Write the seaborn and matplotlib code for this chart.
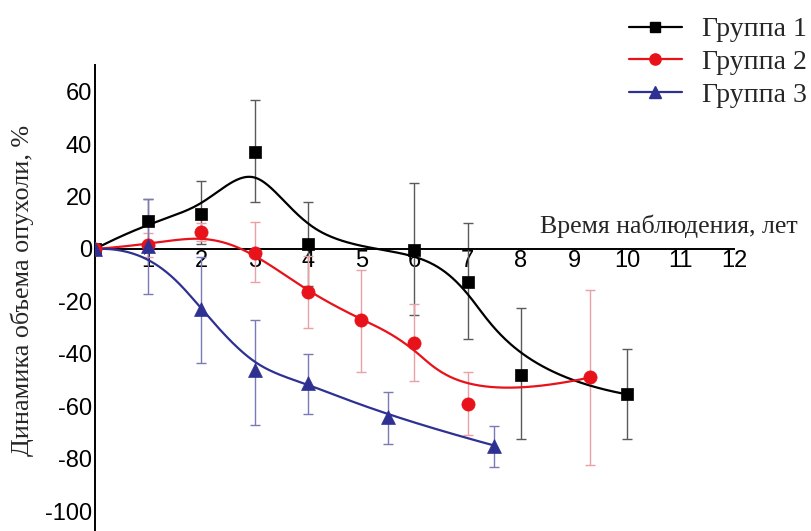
import numpy as np
import pandas as pd
import matplotlib
matplotlib.use("Agg")
import matplotlib.pyplot as plt
import seaborn as sns
from matplotlib.lines import Line2D

# ---------------- data ----------------
g1_x = [0, 1, 2, 3, 4, 6, 7, 8, 10]
g1_y = [0, 10.5, 13.5, 37, 2, -0.5, -12.5, -48, -55.5]
g1_hi = [0, 19, 26, 57, 18, 25, 10, -22.5, -38]
g1_lo = [0, 2, 2, 18, -14, -25, -34.5, -72.5, -72.5]

g2_x = [0, 1, 2, 3, 4, 5, 6, 7, 9.3]
g2_y = [0, 1.5, 6.5, -1.5, -16.4, -27, -36, -59, -49]
g2_hi = [0, 6, 10, 10.3, -2.5, -8, -21, -47, -15.6]
g2_lo = [0, -3, 3, -12.6, -30, -47, -50.4, -71, -82.4]

g3_x = [0, 1, 2, 3, 4, 5.5, 7.5]
g3_y = [0, 1, -23, -46, -51, -64, -75]
g3_hi = [0, 19, -3, -27, -40, -54.6, -67.5]
g3_lo = [0, -17, -43.5, -67, -63, -74.4, -83]

labels = ["Группа 1", "Группа 2", "Группа 3"]
x_ticks = list(range(1, 13))
y_ticks = [60, 40, 20, 0, -20, -40, -60, -80, -100]
x_title = "Время наблюдения, лет"
y_title = "Динамика объема опухоли, %"

colors = ["#000000", "#e8121a", "#2e3192"]
err_colors = ["#5a5a5a", "#eaa0a4", "#7a7ab8"]
markers = ["s", "o", "^"]
msizes = [8, 9.5, 10]


def bspline(xs, ys, n=400, k=3):
    """Clamped cubic B-spline using data points as control points."""
    P = np.column_stack([xs, ys]).astype(float)
    m = len(P)
    knots = np.concatenate([np.zeros(k), np.linspace(0, 1, m - k + 1), np.ones(k)])
    t = np.linspace(0, 1 - 1e-9, n)

    def N(i, p):
        if p == 0:
            return ((knots[i] <= t) & (t < knots[i + 1])).astype(float)
        out = np.zeros_like(t)
        d1 = knots[i + p] - knots[i]
        d2 = knots[i + p + 1] - knots[i + 1]
        if d1 > 0:
            out += (t - knots[i]) / d1 * N(i, p - 1)
        if d2 > 0:
            out += (knots[i + p + 1] - t) / d2 * N(i + 1, p - 1)
        return out

    B = np.array([N(i, k) for i in range(m)])
    C = B.T @ P
    return C[:, 0], C[:, 1]


sns.set_style("white")
plt.rcParams["font.family"] = ["Liberation Sans", "DejaVu Sans"]

fig = plt.figure(figsize=(8.12, 5.31), dpi=100)
ax = fig.add_axes([95 / 812, 0.0, (734 - 95) / 812, 1 - 65 / 531])

groups = [
    (g1_x, g1_y, g1_hi, g1_lo),
    (g2_x, g2_y, g2_hi, g2_lo),
    (g3_x, g3_y, g3_hi, g3_lo),
]

for idx, (xs, ys, hi, lo) in enumerate(groups):
    xs_a = np.array(xs[1:], float)
    ys_a = np.array(ys[1:], float)
    up = np.array(hi[1:]) - ys_a
    dn = ys_a - np.array(lo[1:])
    ax.errorbar(xs_a, ys_a, yerr=[dn, up], fmt="none", ecolor=err_colors[idx],
                elinewidth=1.0, capsize=3.6, capthick=1.0, zorder=2)

for idx, (xs, ys, hi, lo) in enumerate(groups):
    cx, cy = bspline(xs, ys)
    df = pd.DataFrame({"x": cx, "y": cy})
    sns.lineplot(data=df, x="x", y="y", sort=False, estimator=None, ax=ax,
                 color=colors[idx], linewidth=1.6, zorder=3)

for idx, (xs, ys, hi, lo) in enumerate(groups):
    df = pd.DataFrame({"x": xs, "y": ys})
    sns.scatterplot(data=df, x="x", y="y", ax=ax, marker=markers[idx],
                    s=msizes[idx] ** 2, color=colors[idx], edgecolor=colors[idx],
                    linewidth=0.5, zorder=4)

ax.set_xlim(0, 12)
ax.set_ylim(-107.6, 70.2)
ax.set_xticks(x_ticks)
ax.set_xticklabels([str(v) for v in x_ticks])
ax.set_yticks(y_ticks)
ax.set_yticklabels([str(v) for v in y_ticks])
ax.tick_params(axis="both", length=0, labelsize=17, colors="black")
ax.tick_params(axis="x", pad=1)
ax.tick_params(axis="y", pad=2)
ax.set_xlabel("")
ax.set_ylabel("")
for s in ["top", "right"]:
    ax.spines[s].set_visible(False)
ax.spines["bottom"].set_position(("data", 0))
for s in ["left", "bottom"]:
    ax.spines[s].set_color("black")
    ax.spines[s].set_linewidth(1.4)
ax.patch.set_alpha(0)

serif = ["Liberation Serif", "DejaVu Serif"]
fig.text(540 / 812, 1 - 226 / 531, x_title, ha="left", va="center",
         fontsize=18.6, family=serif)
fig.text(22 / 812, 1 - 290 / 531, y_title, ha="center", va="center",
         rotation=90, fontsize=18.8, family=serif)

handles = [Line2D([0], [0], color=colors[i], marker=markers[i], lw=1.6,
                  markersize=msizes[i] * 0.85) for i in range(3)]
fig.legend(handles, labels, loc="upper right", bbox_to_anchor=(1.025, 1.015),
           frameon=False, prop={"family": serif, "size": 20},
           handlelength=1.9, handletextpad=0.75, labelspacing=0.26)

fig.savefig("out.png", dpi=100)
